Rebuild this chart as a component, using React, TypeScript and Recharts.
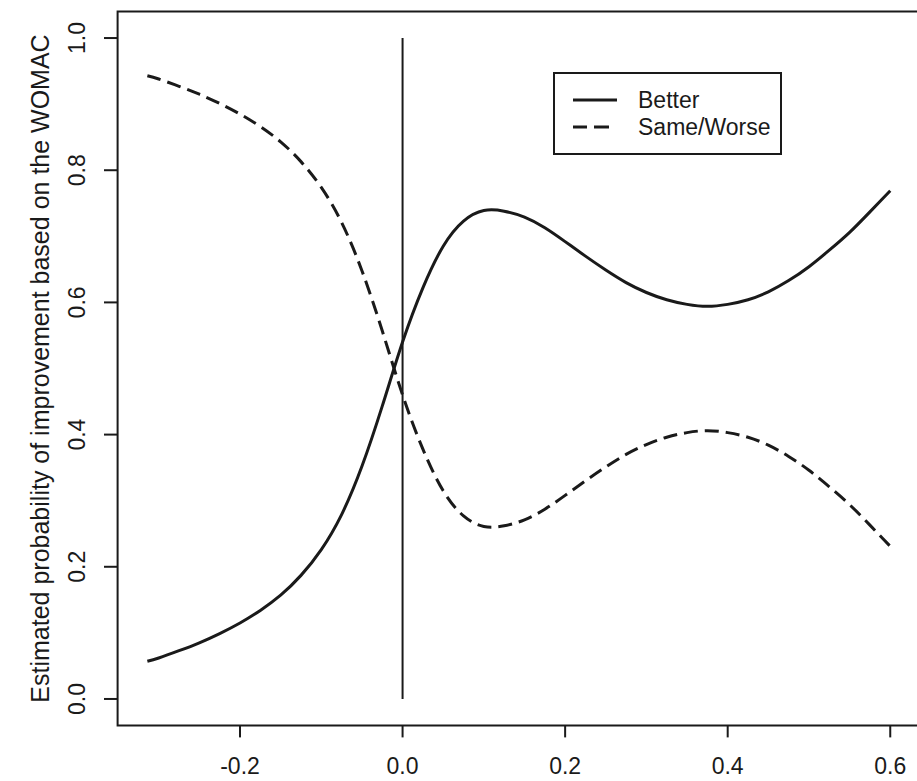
import React from 'react';
import { LineChart, Line, XAxis, YAxis, ReferenceLine, ReferenceArea, Legend } from 'recharts';

const xValues = [-0.314, -0.3, -0.275, -0.25, -0.225, -0.2, -0.175, -0.15, -0.125, -0.1, -0.075, -0.05, -0.025, 0, 0.025, 0.05, 0.075, 0.1, 0.125, 0.15, 0.175, 0.2, 0.225, 0.25, 0.275, 0.3, 0.325, 0.35, 0.375, 0.4, 0.425, 0.45, 0.475, 0.5, 0.525, 0.55, 0.575, 0.6];
const betterValues = [0.057, 0.062, 0.073, 0.085, 0.099, 0.115, 0.134, 0.157, 0.187, 0.226, 0.279, 0.352, 0.443, 0.54, 0.622, 0.685, 0.723, 0.739, 0.738, 0.729, 0.713, 0.692, 0.67, 0.649, 0.63, 0.615, 0.604, 0.597, 0.594, 0.597, 0.604, 0.616, 0.633, 0.654, 0.679, 0.706, 0.737, 0.769];
const sameWorseValues = [0.943, 0.938, 0.927, 0.915, 0.901, 0.885, 0.866, 0.843, 0.813, 0.774, 0.721, 0.648, 0.557, 0.46, 0.378, 0.315, 0.277, 0.261, 0.262, 0.271, 0.287, 0.308, 0.33, 0.351, 0.37, 0.385, 0.396, 0.403, 0.406, 0.403, 0.396, 0.384, 0.367, 0.346, 0.321, 0.294, 0.263, 0.231];
const xTicks = [-0.2, 0, 0.2, 0.4, 0.6];
const yTicks = [0, 0.2, 0.4, 0.6, 0.8, 1.0];
const seriesNames = ['Better', 'Same/Worse'];
const yLabel = 'Estimated probability of improvement based on the WOMAC';

const data = xValues.map((x, i) => ({ x, better: betterValues[i], same: sameWorseValues[i] }));

const FONT = '"Liberation Sans", Arial, Helvetica, sans-serif';
const INK = '#1a1a1a';

const XTick = (props: any) => {
  const { x, y, payload } = props;
  return (
    <text x={x} y={y} dy={36.6} textAnchor="middle" fontSize={23} fontFamily={FONT} fill={INK}>
      {Number(payload.value).toFixed(1)}
    </text>
  );
};

const YTick = (props: any) => {
  const { x, y, payload } = props;
  const tx = x - 19;
  return (
    <text x={tx} y={y} transform={`rotate(-90 ${tx} ${y})`} textAnchor="middle" fontSize={23} fontFamily={FONT} fill={INK}>
      {Number(payload.value).toFixed(1)}
    </text>
  );
};

const YLabel = (props: any) => {
  const vb = props.viewBox || { x: 117.6, y: 11.6, width: 0, height: 713.8 };
  const cy = vb.y + vb.height / 2;
  const cx = 49;
  return (
    <text x={cx} y={cy} transform={`rotate(-90 ${cx} ${cy})`} textAnchor="middle" fontSize={25} fontFamily={FONT} fill={INK}>
      {yLabel}
    </text>
  );
};

const LegendBox = () => (
  <svg width={229} height={83} style={{ display: 'block' }}>
    <rect x={1} y={1} width={227} height={81} fill="#fff" stroke={INK} strokeWidth={2} />
    <line x1={20} x2={64} y1={28} y2={28} stroke={INK} strokeWidth={3} />
    <line x1={20} x2={64} y1={55} y2={55} stroke={INK} strokeWidth={3} strokeDasharray="14 7 15 100" />
    <text x={85} y={36} fontSize={23} fontFamily={FONT} fill={INK}>{seriesNames[0]}</text>
    <text x={85} y={63} fontSize={23} fontFamily={FONT} fill={INK}>{seriesNames[1]}</text>
  </svg>
);

export default function App() {
  return (
    <div style={{ position: 'absolute', left: 0, top: 0, width: 917, height: 781, overflow: 'hidden', background: '#fff' }}>
      <LineChart width={925} height={781} data={data} margin={{ top: 11.6, right: 5, bottom: 0, left: 0 }}>
        <XAxis
          type="number"
          dataKey="x"
          domain={[-0.3506, 0.6366]}
          allowDataOverflow
          ticks={xTicks}
          axisLine={false}
          tickLine={{ stroke: INK, strokeWidth: 2 }}
          tickSize={12}
          tickMargin={0}
          height={55.6}
          tick={<XTick />}
        />
        <YAxis
          type="number"
          domain={[-0.04, 1.04]}
          allowDataOverflow
          ticks={yTicks}
          axisLine={false}
          tickLine={{ stroke: INK, strokeWidth: 2 }}
          tickSize={13.6}
          tickMargin={0}
          width={117.6}
          tick={<YTick />}
          label={<YLabel />}
        />
        <ReferenceArea x1={-0.3506} x2={0.6366} y1={-0.04} y2={1.04} fill="none" fillOpacity={0} stroke={INK} strokeWidth={2} ifOverflow="visible" />
        <ReferenceLine segment={[{ x: 0, y: 0 }, { x: 0, y: 1 }]} stroke={INK} strokeWidth={2} ifOverflow="visible" />
        <Line type="natural" dataKey="better" name={seriesNames[0]} stroke={INK} strokeWidth={3} dot={false} isAnimationActive={false} />
        <Line type="natural" dataKey="same" name={seriesNames[1]} stroke={INK} strokeWidth={3} strokeDasharray="14 7" dot={false} isAnimationActive={false} />
        <Legend
          layout="horizontal"
          verticalAlign="middle"
          align="center"
          content={<LegendBox />}
          wrapperStyle={{ position: 'absolute', left: 553, top: 72, width: 229, height: 83 }}
        />
      </LineChart>
    </div>
  );
}
